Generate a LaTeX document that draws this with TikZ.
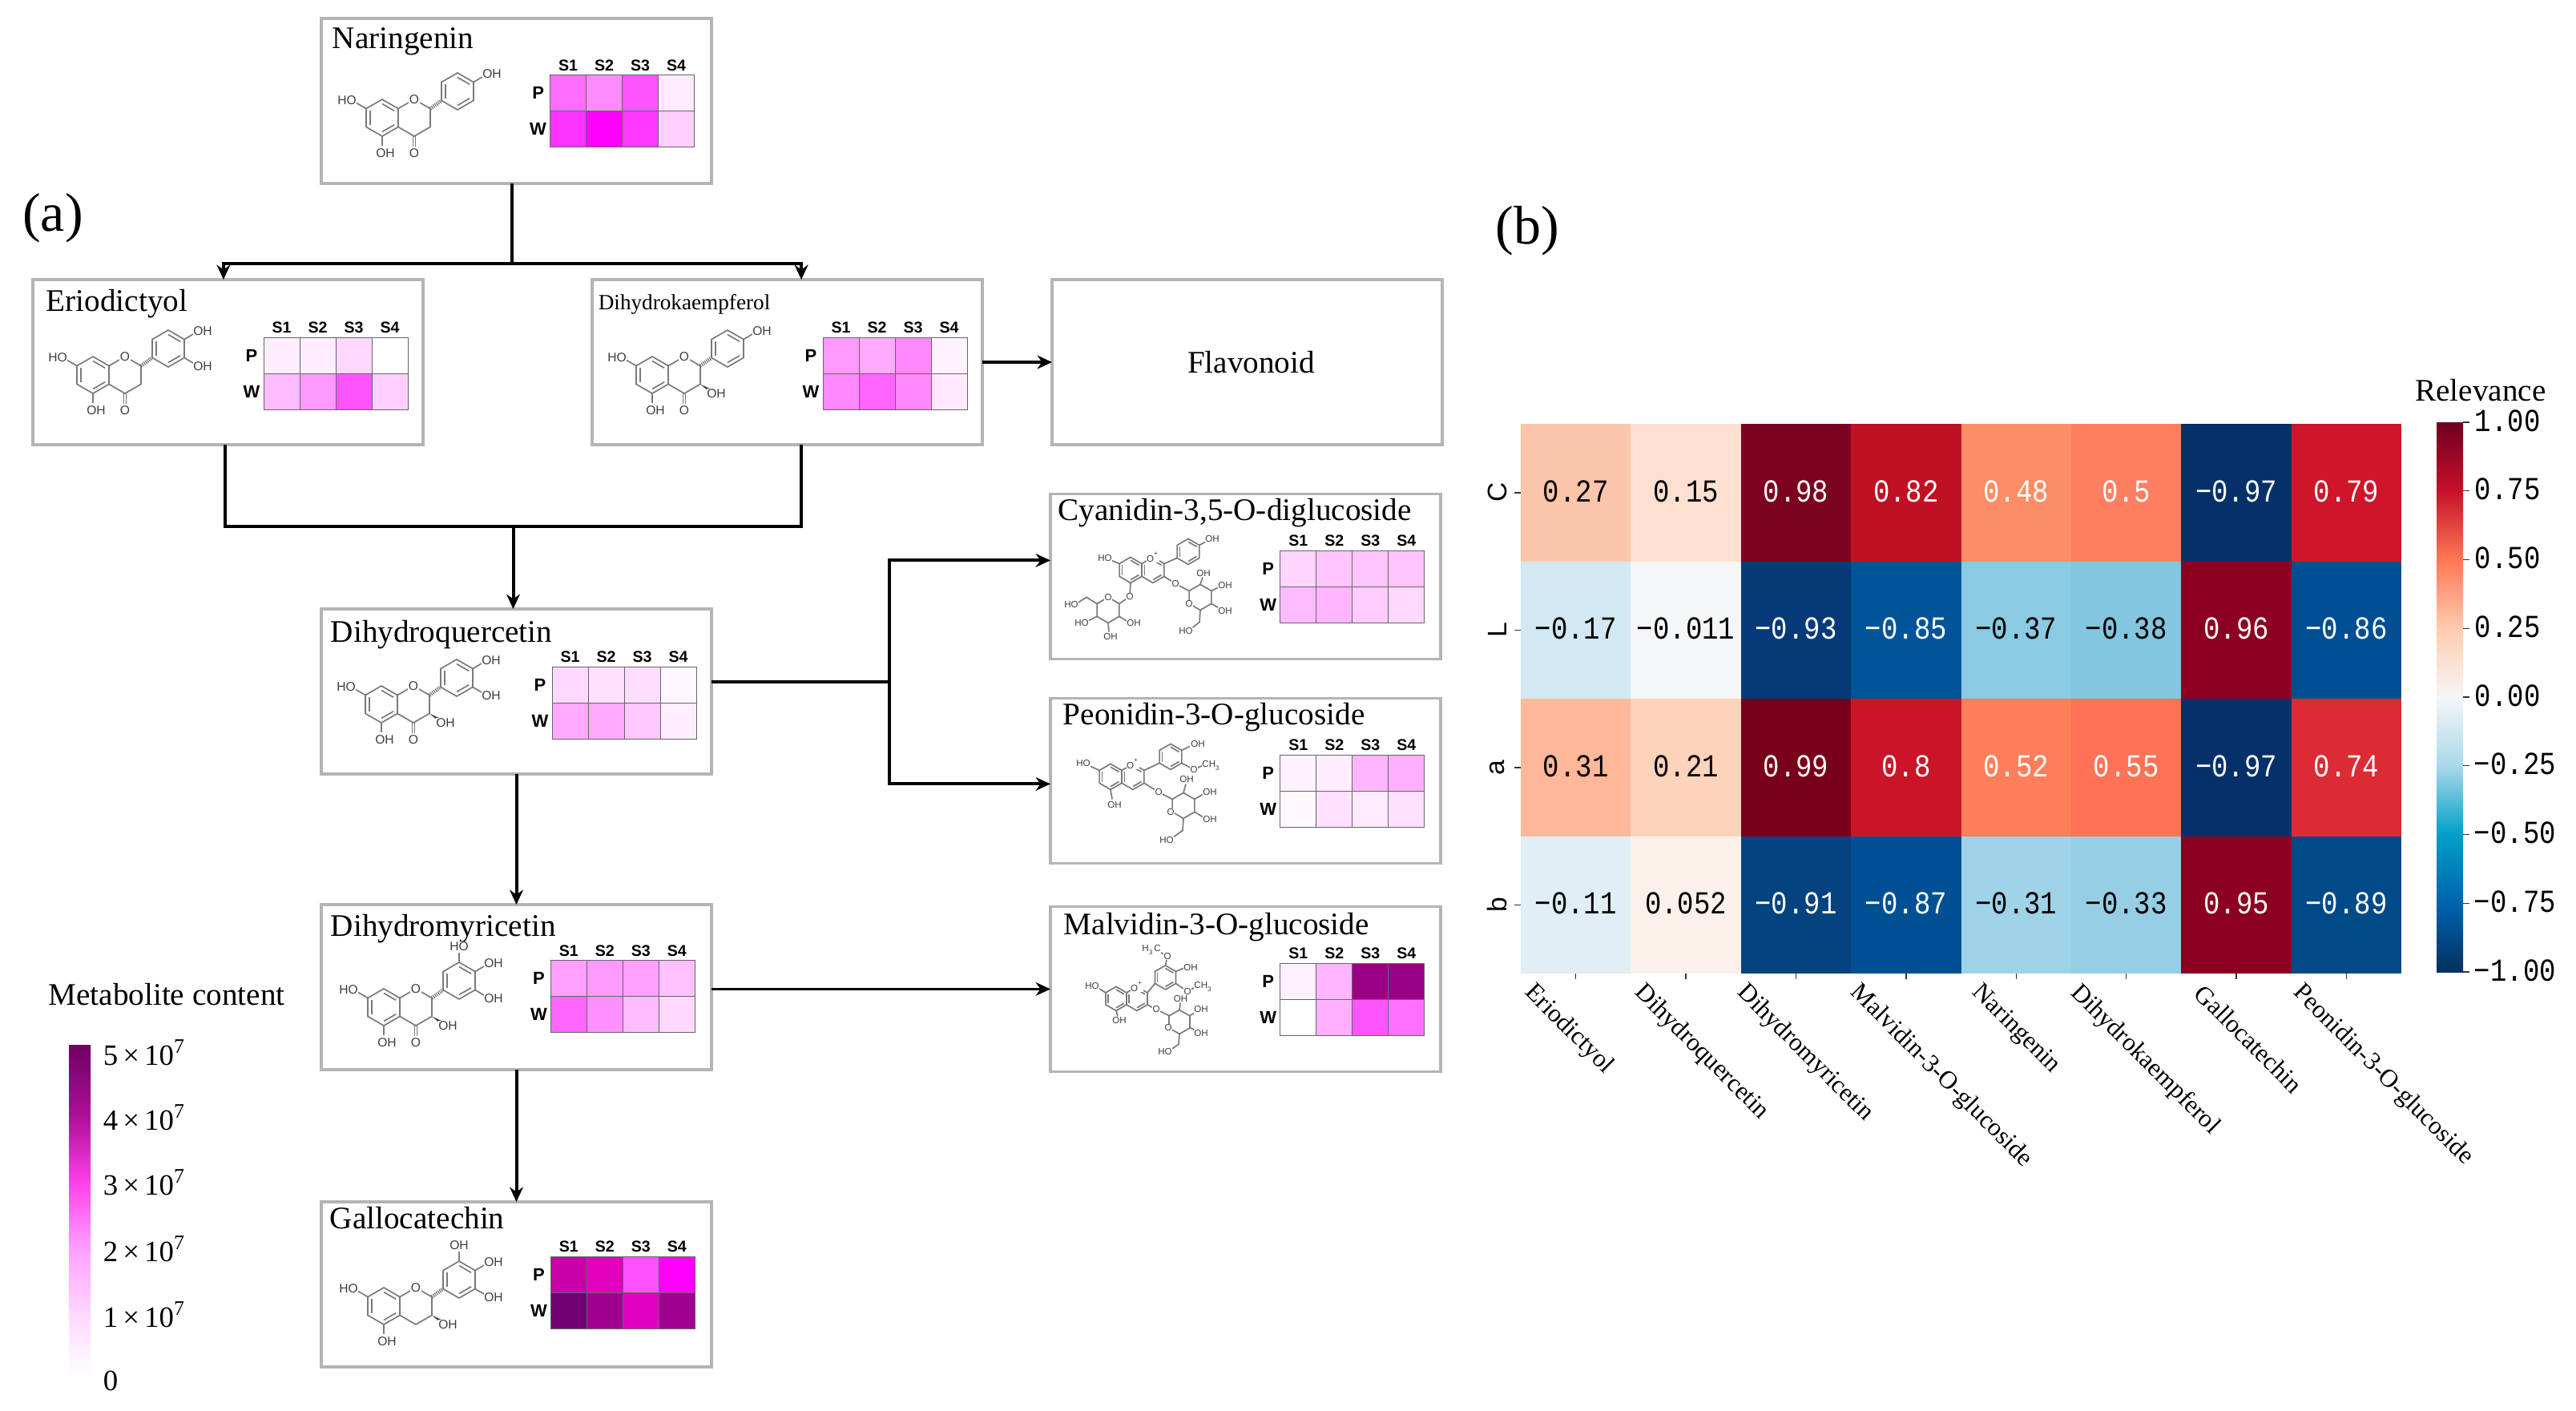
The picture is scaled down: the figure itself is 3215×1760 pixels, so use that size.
\documentclass[tikz,border=0pt]{standalone}
\usepackage{fontspec}
\setmainfont{Liberation Serif}
\newfontfamily\chemfont{Liberation Sans}
\newfontfamily\relfont[FakeStretch=0.85]{Liberation Mono}
\usetikzlibrary{positioning,arrows.meta}

\newcounter{atomno}
\newcommand{\atomat}[3]{\stepcounter{atomno}\node[atomlab] (atom\theatomno) at (#1,#2) {#3};}
\newcommand{\metmap}[4][xshift=0pt]{%
      \begin{scope}[shift={([#1]#2.north west)}]
      \foreach \cc [count=\i from 0] in {#3} {
            \definecolor{cellc}{HTML}{\cc}
            \node[mapcell, fill=cellc] (#2p\i) at ({310.5+45*\i},94.5) {};
      }
      \foreach \cc [count=\i from 0] in {#4} {
            \definecolor{cellc}{HTML}{\cc}
            \node[mapcell, fill=cellc] (#2w\i) at ({310.5+45*\i},139.5) {};
      }
      \foreach \s in {1,2,3,4} {
            \node[maplab] (#2s\s) at ({265.5+45*\s},60) {S\s};
      }
      \node[maprow] (#2rowp) at (273,94.5) {P};
      \node[maprow] (#2roww) at (273,139.5) {W};
      \end{scope}
}

\tikzset{
      metbox/.style={draw=boxgray, fill=white, line width=0.8pt, minimum width=121.75pt, minimum height=51.5pt, inner sep=0pt, outer sep=0pt},
      titlefont/.style={font=\fontsize{9.8}{11.6}\selectfont},
      titlelab/.style={titlefont, anchor=base west, inner sep=0pt},
      mapcell/.style={draw=black!60, line width=0.25pt, minimum width=11.25pt, minimum height=11.25pt, inner sep=0pt, outer sep=0pt},
      maplab/.style={font=\chemfont\bfseries\fontsize{4.9}{5.5}\selectfont, inner sep=0pt},
      maprow/.style={font=\chemfont\bfseries\fontsize{5.5}{6}\selectfont, inner sep=0pt},
      flowline/.style={draw=black, line width=1pt},
      flowarrow/.style={flowline, -{Stealth[length=4.6pt,width=4.2pt]}},
      thinarrow/.style={flowarrow, line width=0.7pt},
      chembond/.style={draw=chemgray, line width=0.42pt},
      hashbond/.style={draw=chemgray, line width=1.2pt, dash pattern=on 0.3pt off 0.3pt},
      atomlab/.style={font=\chemfont\fontsize{3.9}{4.5}\selectfont, text=chemink, fill=white, inner sep=0.15pt},
      smallatoms/.style={atomlab/.append style={font=\chemfont\fontsize{2.9}{3.4}\selectfont}},
      relcell/.style={minimum width=34.4pt, minimum height=42.9pt, inner sep=0pt, outer sep=0pt, font=\relfont\fontsize{10}{12}\selectfont},
      ticklab/.style={anchor=west, inner sep=0pt, font=\relfont\fontsize{10}{12}\selectfont},
      tickmark/.style={draw=black!80, line width=0.35pt},
      metlab/.style={anchor=west, inner sep=0pt, font=\fontsize{9.2}{11}\selectfont},
      collab/.style={anchor=west, rotate=-45, inner sep=0pt, font=\fontsize{7.9}{9.5}\selectfont},
      rowlab/.style={rotate=90, inner sep=0pt, font=\chemfont\fontsize{8.4}{9}\selectfont},
      panellab/.style={inner sep=0pt, font=\fontsize{17}{20}\selectfont},
      hexring/.pic={\draw[chembond] (90:#1) -- (30:#1) -- (-30:#1) -- (-90:#1) -- (-150:#1) -- (150:#1) -- cycle;},
      arring/.pic={
            \pic {hexring=#1};
            \foreach \a in {30,150,270} {\draw[chembond] (\a:0.76*#1) -- (\a+60:0.76*#1);}
      },
      flavcore/.pic={
            \pic at (0,0) {arring=23};
            \pic at (40,0) {hexring=23};
            \pic at (94,-33) {arring=23};
            \draw[chembond] (-20,-11.5) -- (-33,-19);
            \draw[chembond] (0,23) -- (0,35);
            \draw[hashbond] (60,-11.5) -- (74,-21.5);
            \atomat{-44}{-22}{HO}
            \atomat{4}{44}{OH}
            \atomat{40}{-23}{O}
      },
      ketone/.pic={
            \draw[chembond] (38.5,23) -- (38.5,36);
            \draw[chembond] (41.5,23) -- (41.5,36);
            \atomat{40}{44}{O}
      },
      ohthree/.pic={
            \fill[chemink] (60,11.5) -- (72,17) -- (70,20) -- cycle;
            \atomat{80}{23}{OH}
      },
      bup/.pic={
            \draw[chembond] (114,-44.5) -- (125,-51);
            \atomat{137}{-55}{OH}
      },
      blo/.pic={
            \draw[chembond] (114,-21.5) -- (125,-15);
            \atomat{137}{-11}{OH}
      },
      btop/.pic={
            \draw[chembond] (94,-56) -- (94,-68);
            \atomat{94}{-76}{#1}
      },
}
\definecolor{boxgray}{HTML}{B4B4B4}
\definecolor{chemgray}{HTML}{7A7A7A}
\definecolor{chemink}{HTML}{3C3C3C}

\begin{document}
\begin{tikzpicture}[x=0.25pt,y=-0.25pt]
      \useasboundingbox (0,0) rectangle (3215,1760);

      \node[panellab] (panela) at (66,272) {(a)};
      \node[panellab] (panelb) at (1906,288) {(b)};

      % compound boxes
      \node[metbox] (nar) at (644.5,126) {};
      \node[metbox, below=30pt of nar, xshift=-90pt] (eri) {};
      \node[metbox, below=30pt of nar, xshift=84.5pt] (kae) {};
      \node[metbox, right=21.75pt of kae, titlefont] (fla) {\hspace*{2.5pt}Flavonoid};
      \node[metbox, below=132.75pt of nar] (qur) {};
      \node[metbox, below=40.75pt of qur] (myr) {};
      \node[metbox, below=41.25pt of myr] (gal) {};
      \node[metbox, right=105.75pt of qur, yshift=35.9pt] (cya) {};
      \node[metbox, below=12.25pt of cya] (peo) {};
      \node[metbox, below=13.5pt of peo] (mal) {};

      \node[titlelab] (narT) at ([shift={(13,37)}]nar.north west) {Naringenin};
      \node[titlelab] (eriT) at ([shift={(16,39)}]eri.north west) {Eriodictyol};
      \node[titlelab, font=\fontsize{6.8}{8}\selectfont] (kaeT) at ([shift={(7,37)}]kae.north west) {Dihydrokaempferol};
      \node[titlelab] (qurT) at ([shift={(11,41)}]qur.north west) {Dihydroquercetin};
      \node[titlelab] (myrT) at ([shift={(11,39)}]myr.north west) {Dihydromyricetin};
      \node[titlelab] (galT) at ([shift={(10,33)}]gal.north west) {Gallocatechin};
      \node[titlelab] (cyaT) at ([shift={(9,33)}]cya.north west) {Cyanidin-3,5-O-diglucoside};
      \node[titlelab] (peoT) at ([shift={(15,33)}]peo.north west) {Peonidin-3-O-glucoside};
      \node[titlelab] (malT) at ([shift={(16,35)}]mal.north west) {Malvidin-3-O-glucoside};

      \metmap[xshift=-0.6pt,yshift=0.3pt]{nar}{FF6EFF,FF8CFF,FF55FF,FFEBFF}{FF33FF,FF00FF,FF38FF,FFD0FF}
      \metmap{eri}{FFEEFF,FFEEFF,FFD8FF,FFFFFF}{FFBBFF,FF99FF,FF55FF,FFD0FF}
      \metmap{kae}{FF99FF,FFAAFF,FF88FF,FFF2FF}{FF88FF,FF66FF,FF88FF,FFE8FF}
      \metmap{qur}{FFD8FF,FFE0FF,FFDDFF,FFF6FF}{FFAAFF,FFAAFF,FFC8FF,FFEEFF}
      \metmap[xshift=-0.4pt,yshift=0.6pt]{myr}{FFA0FF,FF99FF,FFA0FF,FFC0FF}{FF66FF,FF90FF,FFBBFF,FFD8FF}
      \metmap[xshift=-0.4pt,yshift=1pt]{gal}{C800A8,E000BC,FF50FF,FF00FF}{700070,A00090,E000C0,A00090}
      \metmap[xshift=-0.3pt,yshift=0.3pt]{cya}{FFD5FF,FFC5FF,FFC5FF,FFC5FF}{FFBBFF,FFB5FF,FFCCFF,FFD8FF}
      \metmap[xshift=-0.3pt,yshift=0.3pt]{peo}{FFF2FF,FFEEFF,FFB5FF,FFB0FF}{FFF8FF,FFE0FF,FFEBFF,FFE0FF}
      \metmap[xshift=-0.3pt,yshift=0.3pt]{mal}{FFF0FF,FFB5FF,9A0085,980085}{FFFFFF,FFB0FF,FF55FF,FF70FF}

      % flavan skeletons
      \begin{scope}[shift={([shift={(76,124)}]nar.north west)}]
            \pic {flavcore}; \pic {ketone}; \pic {bup};
      \end{scope}
      \begin{scope}[shift={([shift={(75,119)}]eri.north west)}]
            \pic {flavcore}; \pic {ketone}; \pic {bup}; \pic {blo};
      \end{scope}
      \begin{scope}[shift={([shift={(75,119)}]kae.north west)}]
            \pic {flavcore}; \pic {ketone}; \pic {ohthree}; \pic {bup};
      \end{scope}
      \begin{scope}[shift={([shift={(75,119)}]qur.north west)}]
            \pic {flavcore}; \pic {ketone}; \pic {ohthree}; \pic {bup}; \pic {blo};
      \end{scope}
      \begin{scope}[shift={([shift={(78,128)}]myr.north west)}, scale=0.9]
            \pic {flavcore}; \pic {ketone}; \pic {ohthree}; \pic {btop=HO}; \pic {bup}; \pic {blo};
      \end{scope}
      \begin{scope}[shift={([shift={(78,130)}]gal.north west)}, scale=0.9]
            \pic {flavcore}; \pic {ohthree}; \pic {btop=OH}; \pic {bup}; \pic {blo};
      \end{scope}

      % anthocyanins
      \begin{scope}[shift={(cya.north west)}, smallatoms]
            \pic at (100,95) {arring=16}; \pic at (128,95) {arring=16}; \pic at (172,72) {arring=16};
            \pic at (187,129) {hexring=16}; \pic at (72,145) {hexring=16};
            \draw[chembond] (142,87) -- (158,80);
            \draw[chembond] (186,64) -- (195,59);
            \draw[chembond] (86,87) -- (76,83);
            \draw[chembond] (142,103) -- (156,112) -- (173,121);
            \draw[chembond] (100,111) -- (99,128) -- (86,137);
            \draw[chembond] (187,113) -- (190,104);
            \draw[chembond] (201,121) -- (211,116);
            \draw[chembond] (201,137) -- (211,143);
            \draw[chembond] (187,145) -- (186,160) -- (176,168);
            \draw[chembond] (58,137) -- (45,129) -- (34,136);
            \draw[chembond] (58,153) -- (48,158);
            \draw[chembond] (86,153) -- (96,159);
            \draw[chembond] (72,161) -- (73,172);
            \atomat{128}{79}{O\textsuperscript{+}}
            \atomat{202}{56}{OH} \atomat{68}{80}{HO} \atomat{156}{112}{O}
            \atomat{173}{137}{O} \atomat{191}{99}{OH} \atomat{218}{114}{OH}
            \atomat{218}{146}{OH} \atomat{169}{171}{HO} \atomat{99}{128}{O}
            \atomat{72}{129}{O} \atomat{26}{138}{HO} \atomat{39}{161}{HO}
            \atomat{104}{161}{OH} \atomat{75}{178}{OH}
      \end{scope}
      \begin{scope}[shift={(peo.north west)}, smallatoms]
            \pic at (75,98) {arring=16}; \pic at (103,98) {arring=16}; \pic at (150,73) {arring=16};
            \pic at (166,134) {hexring=16};
            \draw[chembond] (117,90) -- (136,81);
            \draw[chembond] (164,65) -- (174,60);
            \draw[chembond] (164,81) -- (179,89) -- (190,84);
            \draw[chembond] (61,90) -- (50,85);
            \draw[chembond] (75,114) -- (77,126);
            \draw[chembond] (117,106) -- (135,117) -- (152,126);
            \draw[chembond] (166,118) -- (169,107);
            \draw[chembond] (180,126) -- (190,120);
            \draw[chembond] (180,142) -- (190,148);
            \draw[chembond] (166,150) -- (165,165) -- (154,173);
            \atomat{103}{82}{O\textsuperscript{+}}
            \atomat{184}{57}{OH} \atomat{179}{89}{O} \atomat{201}{84}{CH\textsubscript{3}}
            \atomat{41}{81}{HO} \atomat{80}{133}{OH} \atomat{135}{117}{O}
            \atomat{150}{142}{O} \atomat{170}{101}{OH} \atomat{199}{117}{OH}
            \atomat{199}{151}{OH} \atomat{145}{177}{HO}
      \end{scope}
      \begin{scope}[shift={(mal.north west)}, smallatoms]
            \pic at (82,115) {arring=15}; \pic at (108,115) {arring=15}; \pic at (143.5,88.5) {arring=15};
            \pic at (161,144) {hexring=15};
            \draw[chembond] (121,107.5) -- (130.5,96);
            \draw[chembond] (143.5,73.5) -- (146,62) -- (137,57);
            \draw[chembond] (156.5,81) -- (166,77);
            \draw[chembond] (156.5,96) -- (171,106) -- (180,101);
            \draw[chembond] (69,107.5) -- (60,102);
            \draw[chembond] (82,130) -- (84,137);
            \draw[chembond] (121,122.5) -- (132,128.5) -- (148,136);
            \draw[chembond] (161,129) -- (162,120);
            \draw[chembond] (174,136) -- (181,132);
            \draw[chembond] (174,151) -- (181,155);
            \draw[chembond] (161,159) -- (160,172) -- (151,178);
            \atomat{108}{100}{O\textsuperscript{+}}
            \atomat{126}{54}{H\textsubscript{3}C} \atomat{146}{62}{O} \atomat{175}{76}{OH}
            \atomat{171}{106}{O} \atomat{191}{100}{CH\textsubscript{3}} \atomat{52}{99}{HO}
            \atomat{86}{142}{OH} \atomat{132}{128.5}{O} \atomat{147}{151}{O}
            \atomat{162.5}{115}{OH} \atomat{188}{128.5}{OH} \atomat{188}{158}{OH}
            \atomat{143}{181}{HO}
      \end{scope}

      % connectors
      \coordinate[below=25pt of nar.south, xshift=-1.4pt] (narJ);
      \draw[flowline] ([xshift=-1.4pt]nar.south) -- (narJ);
      \draw[flowarrow] (narJ) -| ([xshift=-1.4pt]eri.north);
      \draw[flowarrow] (narJ) -| ([xshift=4.4pt]kae.north);
      \coordinate[above=25.75pt of qur.north, xshift=-1pt] (mergeJ);
      \draw[flowline] ([xshift=-1pt]eri.south) |- (mergeJ) -| ([xshift=4.4pt]kae.south);
      \draw[flowarrow] (mergeJ) -- ([xshift=-1pt]qur.north);
      \draw[flowarrow] (kae.east) -- (fla.west);
      \coordinate[right=55.5pt of qur.east, yshift=3pt] (forkJ);
      \draw[flowline] ([yshift=3pt]qur.east) -- (forkJ);
      \draw[flowarrow] (forkJ) |- ([yshift=5pt]cya.west);
      \draw[flowarrow] (forkJ) |- ([yshift=-1pt]peo.west);
      \draw[flowarrow] (qur.south) -- (myr.north);
      \draw[flowarrow] (myr.south) -- (gal.north);
      \draw[thinarrow] (myr.east |- mal.west) -- (mal.west);

      % content scale
      \node[inner sep=0pt, titlefont] (metT) at (208,1241) {Metabolite content};
      \foreach \ya/\yb/\ca/\cb in {1304/1395/6E0060/B0109A, 1395/1476/B0109A/FF40E8, 1476/1559/FF40E8/FFA0FF, 1559/1641/FFA0FF/FFD8FF, 1641/1717/FFD8FF/FFFFFF} {
            \definecolor{segtop}{HTML}{\ca}
            \definecolor{segbot}{HTML}{\cb}
            \shade[top color=segtop, bottom color=segbot] (86,\ya) rectangle (113,\yb);
      }
      \foreach \k/\yy in {5/1314,4/1395,3/1476,2/1559,1/1641} {
            \node[metlab] (met\k) at (128,\yy) {\k{\,}×{\,}10\textsuperscript{7}};
      }
      \node[metlab] (met0) at (128,1723) {0};

      % relevance map
      \foreach \ry/\cells in {
            0/{FCC6AB/black/0.27, FDE0D0/black/0.15, 7B0220/white/0.98, C01024/white/0.82, FD8D66/white/0.48, FF8060/white/0.5, 05306A/white/−0.97, CE1529/white/0.79},
            1/{D2E8F2/black/−0.17, F5F6F8/black/−0.011, 063A78/white/−0.93, 005598/white/−0.85, 8ACAE2/black/−0.37, 82C6E0/black/−0.38, 8C0021/white/0.96, 004F92/white/−0.86},
            2/{FFB89A/black/0.31, FED3BC/black/0.21, 780019/white/0.99, CC1428/white/0.8, FF7F5A/white/0.52, FE7355/white/0.55, 05306A/white/−0.97, DC2B34/white/0.74},
            3/{E0EEF5/black/−0.11, FCF0EB/black/0.052, 04437F/white/−0.91, 015093/white/−0.87, 9FD3E8/black/−0.31, 96CEE6/black/−0.33, 8B0020/white/0.95, 014A88/white/−0.89}} {
            \foreach \hx/\tx/\val [count=\cx from 0] in \cells {
                  \definecolor{cellc}{HTML}{\hx}
                  \node[relcell, fill=cellc, text=\tx] (rel\ry\cx) at ({1966.7+137.4*\cx},{614.8+171.5*\ry}) {\raisebox{1pt}{\val}};
            }
      }
      \foreach \ry/\lab in {0/C,1/L,2/a,3/b} {
            \draw[tickmark] (rel\ry0.west) -- ++(-8,0);
            \node[rowlab] (row\ry) at ([xshift=-7.25pt]rel\ry0.west) {\lab};
      }
      \foreach \cx/\xx/\lab in {0/1907/Eriodictyol, 1/2044/Dihydroquercetin, 2/2172/Dihydromyricetin, 3/2313/Malvidin-3-O-glucoside, 4/2465/Naringenin, 5/2588/Dihydrokaempferol, 6/2744/Gallocatechin, 7/2866/Peonidin-3-O-glucoside} {
            \draw[tickmark] (rel3\cx.south) -- ++(0,7);
            \node[collab] (col\cx) at (\xx,1234) {\lab};
      }

      % relevance scale
      \node[inner sep=0pt, titlefont] (relT) at (3096,487) {Relevance};
      \foreach \ya/\ca/\cb [count=\n from 0] in {527/6E0020/C8102A, 612.75/C8102A/FF7755, 698.5/FF7755/FFCCB0, 784.25/FFCCB0/F6F6F6, 870/F6F6F6/AAD8EA, 955.75/AAD8EA/00A0C8, 1041.5/00A0C8/0063AC, 1127.25/0063AC/053061} {
            \definecolor{segtop}{HTML}{\ca}
            \definecolor{segbot}{HTML}{\cb}
            \shade[top color=segtop, bottom color=segbot] (3041,\ya) rectangle (3074,{\ya+85.75});
      }
      \foreach \lab/\lx [count=\n from 0] in {1.00/3088, 0.75/3088, 0.50/3088, 0.25/3088, 0.00/3088, −0.25/3087, −0.50/3087, −0.75/3087, −1.00/3087} {
            \coordinate (tick\n) at (3074,{527+85.75*\n});
            \draw[tickmark] (tick\n) -- ++(8,0);
            \node[ticklab] (scale\n) at (\lx,{525+85.75*\n}) {\lab};
      }
\end{tikzpicture}
\end{document}
